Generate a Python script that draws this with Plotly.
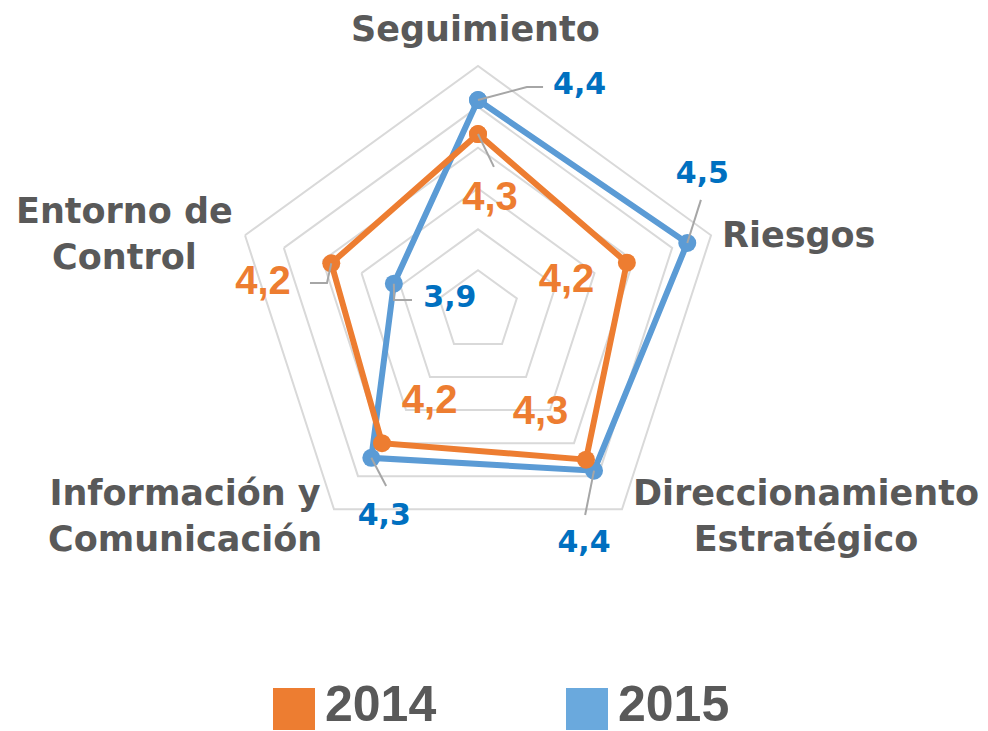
import plotly.graph_objects as go

# ---------------- data ----------------
categories = ["Seguimiento", "Riesgos", "Direccionamiento<br>Estratégico",
              "Información y<br>Comunicación", "Entorno de<br>Control"]
series_names = ["2014", "2015"]
values_2014 = [4.28, 4.19, 4.31, 4.22, 4.18]
values_2015 = [4.43, 4.47, 4.37, 4.30, 3.89]

# angular position of each category (degrees, clockwise from top) for the label layer
cat_theta = [0, 72, 144, 216, 288]

# ---------------- styling / positions ----------------
W, H = 988, 731
OFF = 8  # page body margin
CX, CY, RAD = 478 - OFF, 311 - OFF, 245
R_MIN, R_MAX, R_STEP = 3.5, 4.58, 0.18
RAD2 = 295  # larger overlay polar for labels (same scale)
R_MAX2 = R_MIN + (R_MAX - R_MIN) * RAD2 / RAD

ORANGE = "#ED7D31"
BLUE = "#5B9BD5"
BLUE_TXT = "#0070C0"
GRID = "#D9D9D9"
TXT = "#595959"
LEADER = "#A6A6A6"

# data-label positions (r, theta) per series, in category order
lab_pos_2014 = [(3.99, 6.2), (3.91, 72.0), (4.03, 148.7), (3.96, 207.6), (4.455, 277.2)]
lab_pos_2015 = [(4.585, 24.4), (4.655, 58.9), (4.632, 155.6), (4.50, 204.4), (3.633, 291.4)]
# leader polylines (end points after the data point), None = no leader
lead_2014 = [[(4.139, 6.3)], None, None, None, [(4.177, 280.5), (4.251, 279.5)]]
lead_2015 = [[(4.511, 12.3), (4.528, 16.2)], [(4.598, 63.5)], [(4.516, 152.3)],
             [(4.371, 207.7)], [(3.873, 277.5), (3.795, 279.5)]]


def fmt(v):
    return "<b>" + f"{v:.1f}".replace(".", ",") + "</b>"


def px(x, y):
    return (x - OFF) / W, 1 - (y - OFF) / H


fig = go.Figure()

series = [
    (series_names[1], values_2015, BLUE, lab_pos_2015, lead_2015,
     dict(family="DejaVu Sans", size=30, color=BLUE_TXT)),
    (series_names[0], values_2014, ORANGE, lab_pos_2014, lead_2014,
     dict(family="Liberation Sans", size=40, color=ORANGE)),
]

# main series on the categorical (pentagon) polar
for name, vals, col, lpos, leads, tfont in series:
    fig.add_trace(go.Scatterpolar(
        r=vals + vals[:1], theta=categories + categories[:1],
        mode="lines+markers", name=name,
        line=dict(color=col, width=6),
        marker=dict(color=col, size=18),
        showlegend=False, cliponaxis=False, subplot="polar"))

# leader lines + labels on an overlaid numeric-angle polar (same centre and scale)
for name, vals, col, lpos, leads, tfont in series:
    for v, th, ld in zip(vals, cat_theta, leads):
        if ld is None:
            continue
        fig.add_trace(go.Scatterpolar(
            r=[v] + [p[0] for p in ld], theta=[th] + [p[1] for p in ld],
            mode="lines", line=dict(color=LEADER, width=2),
            hoverinfo="skip", showlegend=False, cliponaxis=False, subplot="polar2"))

for name, vals, col, lpos, leads, tfont in series:
    fig.add_trace(go.Scatterpolar(
        r=[p[0] for p in lpos], theta=[p[1] for p in lpos],
        mode="text", text=[fmt(v) for v in vals],
        textfont=tfont, textposition="middle center",
        hoverinfo="skip", showlegend=False, cliponaxis=False, subplot="polar2"))


def dom(rad):
    return dict(x=[(CX - rad) / W, (CX + rad) / W],
                y=[1 - (CY + rad) / H, 1 - (CY - rad) / H])


fig.update_layout(
    width=W, height=H,
    margin=dict(l=0, r=0, t=0, b=0),
    paper_bgcolor="white",
    polar=dict(
        domain=dom(RAD), bgcolor="white", gridshape="linear",
        radialaxis=dict(range=[R_MIN, R_MAX], tick0=R_MIN, dtick=R_STEP,
                        showticklabels=False, ticks="", showline=False,
                        gridcolor=GRID, gridwidth=2),
        angularaxis=dict(rotation=90, direction="clockwise", type="category",
                         categoryarray=categories,
                         showticklabels=False, ticks="",
                         showgrid=False, showline=True, linecolor=GRID, linewidth=2),
    ),
    polar2=dict(
        domain=dom(RAD2), bgcolor="rgba(0,0,0,0)",
        radialaxis=dict(range=[R_MIN, R_MAX2], visible=False),
        angularaxis=dict(rotation=90, direction="clockwise", thetaunit="degrees",
                         visible=False),
    ),
)

# category labels (reference pixel positions)
cat_lab_pos = [(475, 29, "center"), (720, 235, "left"), (806, 516, "center"),
               (185, 516, "center"), (124, 234, "center")]
for txt, (x, y, al) in zip(categories, cat_lab_pos):
    xx, yy = px(x, y)
    fig.add_annotation(x=xx, y=yy, xref="paper", yref="paper",
                       text=f"<b>{txt}</b>", showarrow=False,
                       xanchor=al, yanchor="middle", align="center",
                       font=dict(family="DejaVu Sans", size=35, color=TXT))

# legend (manual, large squares)
leg = [(series_names[0], ORANGE, 273), (series_names[1], "#6AA9DD", 566)]
for name, col, x0 in leg:
    xa, ya = px(x0, 730)
    xb, yb = px(x0 + 42, 688)
    fig.add_shape(type="rect", xref="paper", yref="paper",
                  x0=xa, x1=xb, y0=ya, y1=yb,
                  fillcolor=col, line=dict(width=0))
    xt, yt = px(x0 + 50, 704)
    fig.add_annotation(x=xt, y=yt, xref="paper", yref="paper",
                       text=f"<b>{name}</b>", showarrow=False,
                       xanchor="left", yanchor="middle",
                       font=dict(family="Liberation Sans", size=50, color=TXT))

fig.write_html("out.html")
